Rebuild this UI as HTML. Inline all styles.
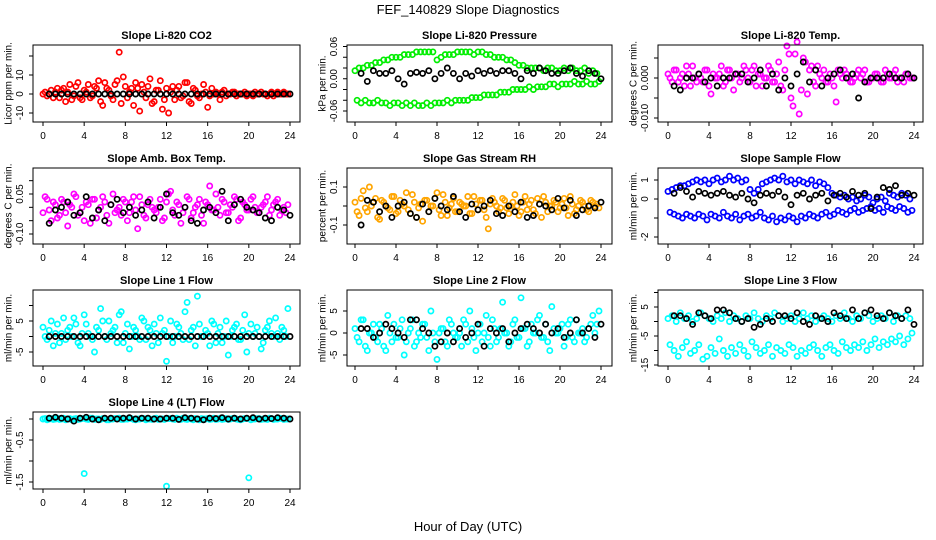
<!DOCTYPE html>
<html><head><meta charset="utf-8"><style>
html,body{margin:0;padding:0;background:#fff;}
svg{display:block;font-family:"Liberation Sans",sans-serif;}
</style></head><body>
<svg id="chart" width="936" height="540" viewBox="0 0 936 540" xmlns="http://www.w3.org/2000/svg">
<rect width="936" height="540" fill="#fff"/>
<text x="468" y="14" font-size="13" text-anchor="middle">FEF_140829  Slope Diagnostics</text>
<text x="468" y="531" font-size="13" text-anchor="middle">Hour of Day (UTC)</text>
</svg>
<script>
// ---- data ----
const xTicks = [0,4,8,12,16,20,24];
const co2A = [0,-1,2,1,-2,3,1,-3,4,-2,2,5,-1,3,-4,6,2,-3,7,-5,4,1,-6,3,5,-2,8,-4,2,-8,3,1,-3,4,-1,6,-5,2,-2,5,-7,3,1,-3,2,0,1,-1,0,1,0,-1,0,1,0,0,-1,1,0,0];
const co2B = [1,0,-2,3,2,-4,5,-1,6,-3,1,-2,4,7,-6,3,-1,5,22,9,-2,3,6,-9,1,4,-5,2,7,-3,-10,4,2,-2,6,-4,3,-1,0,1,-1,0,0,1,-1,0,1,0,0,-1,0,1,0,0,-1,1,0,0,1,0];
const co2K = [0,0,0,0,0,0,0,0,0,0,0,0,0,0,0,0,0,0,0,0,0,0,0,0,0,0,0,0,0,0,0,0,0,0,0,0,0,0,0,0];
const presA = [0.015,0.02,0.02,0.025,0.025,0.03,0.03,0.035,0.035,0.04,0.04,0.04,0.045,0.045,0.045,0.05,0.05,0.05,0.05,0.05,0.035,0.04,0.045,0.045,0.045,0.05,0.05,0.05,0.05,0.045,0.05,0.05,0.045,0.045,0.04,0.04,0.04,0.035,0.035,0.03,0.025,0.025,0.02,0.02,0.02,0.02,0.015,0.02,0.02,0.015,0.015,0.02,0.015,0.02,0.015,0.015,0.02,0.01,0.015,0.01];
const presB = [-0.04,-0.045,-0.04,-0.045,-0.045,-0.04,-0.045,-0.045,-0.05,-0.045,-0.045,-0.05,-0.045,-0.05,-0.045,-0.05,-0.05,-0.045,-0.05,-0.045,-0.045,-0.045,-0.04,-0.045,-0.04,-0.04,-0.04,-0.04,-0.035,-0.035,-0.035,-0.03,-0.03,-0.03,-0.03,-0.025,-0.025,-0.025,-0.02,-0.02,-0.02,-0.02,-0.015,-0.02,-0.015,-0.015,-0.015,-0.01,-0.01,-0.015,-0.01,-0.01,-0.01,-0.005,-0.01,-0.01,-0.005,-0.01,-0.01,-0.005];
const presK = [0.01,-0.005,0.015,0.01,0.01,0.015,0.0,-0.01,0.01,0.012,0.01,0.015,0.0,0.01,0.02,0.01,0.0,0.01,0.005,0.015,0.01,0.015,0.01,0.015,0.015,0.01,0.0,0.015,0.01,0.02,0.015,0.01,0.01,0.015,0.02,0.01,0.005,0.015,0.01,0.0];
const tempA = [0.001,-0.001,0.002,0,-0.002,0.001,0.003,-0.001,0,0.002,-0.002,0.001,0,0.003,-0.001,0.002,-0.003,0.001,0,0.002,-0.001,0.003,0.001,-0.002,0,0.002,-0.001,0.004,-0.003,0.008,-0.005,0.006,-0.009,0.005,-0.004,0.003,-0.002,0.001,0.002,-0.001,0,-0.006,0.001,0.002,0,-0.001,0.001,0,0.002,-0.001,0,0.001,-0.001,0.002,0,0.001,-0.001,0,0.001,0];
const tempB = [0,0.002,-0.001,0.001,0.003,-0.002,0,0.001,-0.001,0.002,-0.004,0,0.001,-0.002,0.002,0,0.001,-0.001,0.003,0,0.002,-0.002,0.001,0,0.003,-0.001,0.001,-0.002,0.002,0.006,-0.007,0.009,-0.003,0.004,0.002,-0.001,0.003,0,-0.001,0.001,-0.002,0.002,0,0.001,-0.001,0,0.002,0.001,-0.001,0,0.001,0,-0.001,0.001,0,0.002,0,-0.001,0.001,0];
const tempK = [-0.002,-0.003,0,0,0.001,-0.001,0,-0.002,0,0,0.001,0.001,-0.001,0,0.002,-0.002,0.001,-0.003,0,-0.002,0.001,0.004,-0.001,0.002,-0.002,0,0.001,0.002,0,0.001,-0.005,-0.001,0,0,0,0.001,0,0,0.001,0];
const ambA = [-0.02,0.03,-0.05,0.01,-0.03,0.02,-0.07,0,0.04,-0.02,-0.05,0.01,0.03,-0.04,0,0.02,-0.06,0.05,-0.01,-0.03,0.02,-0.02,0.04,-0.08,0.01,-0.04,0.03,-0.01,0,-0.05,0.02,0.06,-0.03,0.01,-0.02,0.04,-0.04,0,0.03,-0.06,0.01,-0.01,0.05,-0.03,0.02,-0.02,0,0.03,-0.04,0.01,-0.01,0.04,-0.02,0,0.02,-0.03,0.01,0.03,-0.01,-0.02];
const ambB = [0.04,-0.01,0.02,-0.04,0.03,-0.02,0.01,0.05,-0.03,0,0.02,-0.06,0.03,-0.01,0.04,-0.03,0.01,-0.02,0,0.03,-0.05,0.02,-0.01,0.04,-0.03,0.01,0,-0.02,0.03,-0.04,0.05,-0.01,0.02,-0.06,0,0.03,-0.02,0.01,-0.03,0.02,0.08,-0.01,0,0.03,-0.02,0.01,0.04,-0.05,0.02,-0.01,0.03,0,-0.02,0.01,0.04,-0.01,0.02,-0.03,0,0.01];
const ambK = [-0.06,-0.01,0,0.02,-0.03,-0.02,0.04,-0.04,-0.01,-0.05,0.01,0.03,-0.02,0,-0.03,-0.01,0.02,-0.04,0,0.05,-0.02,-0.03,0,-0.05,-0.06,-0.01,0,-0.02,0.06,-0.05,0.01,0.03,0,-0.01,-0.02,-0.04,-0.05,0,-0.01,-0.03];
const rhA = [0.02,-0.05,0.08,-0.03,0,0.04,-0.07,0.02,-0.01,0.05,-0.04,0.03,0,-0.02,0.06,-0.06,0.01,0.03,-0.03,0,0.07,-0.05,0.02,-0.01,0.04,-0.03,0.01,0,-0.04,0.05,-0.02,0.03,-0.06,0.01,0.02,-0.03,0.04,-0.01,0,0.06,-0.05,0.02,-0.02,0.03,-0.04,0.01,0.05,-0.03,0,0.02,-0.01,0.04,-0.05,0.01,-0.02,0.03,0,-0.03,0.02,0.01];
const rhB = [-0.03,0.04,-0.01,0.1,0.02,-0.06,0.03,0,-0.02,0.05,-0.03,0.01,0.07,-0.04,0.02,-0.01,-0.08,0.03,0,0.04,-0.02,0.06,-0.05,0.01,-0.03,0.02,0,0.05,-0.04,0.01,0.03,-0.02,-0.12,0.04,0,-0.01,0.03,-0.04,0.02,0,-0.03,0.05,0.01,-0.02,0.04,-0.06,0.02,0,0.03,-0.03,0.01,-0.01,0.05,-0.04,0,0.02,-0.02,0.03,0,-0.01];
const rhK = [-0.1,0.03,0.02,-0.03,0,-0.06,0,0.02,-0.04,-0.06,0.01,-0.03,0.04,0,-0.02,0.05,-0.03,-0.06,0.01,-0.02,0,0.03,-0.04,-0.05,0,-0.03,0.02,-0.06,-0.05,0.01,0,-0.02,0.04,-0.01,0.03,-0.05,-0.02,0,-0.01,0.02];
const sfA = [0.4,0.5,0.6,0.7,0.7,0.8,0.9,1.0,0.9,1.0,0.8,1.0,1.1,0.9,1.0,1.2,1.0,1.1,0.9,1.0,0.5,0.3,0.5,0.8,0.9,1.0,1.1,1.0,1.2,0.9,1.0,0.8,1.0,0.9,0.8,1.0,0.7,0.9,0.8,0.6,0.3,0.2,0.1,0.2,0.0,0.1,-0.1,0.0,0.2,0.1,-0.2,0.0,0.1,-0.1,0.3,0.2,0.1,0.3,0.2,0.0];
const sfB = [-0.7,-0.8,-0.9,-1.0,-0.8,-0.9,-1.0,-0.8,-0.9,-1.1,-0.8,-0.9,-1.0,-0.7,-0.9,-1.0,-0.8,-1.1,-0.9,-0.8,-1.0,-0.9,-0.7,-1.0,-1.1,-0.9,-1.2,-1.0,-1.1,-0.9,-1.0,-1.2,-0.9,-1.0,-0.8,-0.9,-1.0,-0.8,-0.7,-0.9,-0.8,-0.6,-0.7,-0.8,-0.6,-0.5,-0.7,-0.6,-0.5,-0.4,-0.6,-0.5,-0.7,-0.4,-0.5,-0.6,-0.4,-0.5,-0.7,-0.6];
const sfK = [0.3,0.6,0.4,0.1,0.4,0.3,0.2,0.3,0.4,0.2,0.1,0.3,0,-0.2,0.2,0.3,0.2,0.4,0.1,-0.3,0.2,0.3,0,0.2,0.3,-0.1,0.2,0.3,0.1,0.4,0.2,0.3,-0.5,0.1,0.6,0.5,0.7,0.2,0.3,0.2];
const l1A = [3,-1,5,1,-2,6,2,0,4,-3,7,1,-1,3,9,0,5,2,-2,8,1,-4,3,0,6,-1,2,4,-2,1,-8,5,0,3,-1,11,2,-3,4,0,1,5,-2,3,0,-6,2,4,-1,7,1,0,3,-4,2,5,0,1,3,0];
const l1B = [0,2,-3,4,1,-1,3,6,-2,1,4,0,-5,2,5,-1,1,3,7,-2,4,0,2,-1,5,3,-3,1,6,2,0,-2,4,1,8,-1,3,13,0,2,-3,4,1,-2,5,0,3,-1,2,-5,4,1,0,-2,3,1,6,-1,2,9];
const l1K = [0,0,0,0,0,0,0,0,0,0,0,0,0,0,0,0,0,0,0,0,0,0,0,0,0,0,0,0,0,0,0,0,0,0,0,0,0,0,0,0];
const l2A = [1,-2,3,-4,0,-1,2,-3,4,-2,-1,1,-5,0,3,-2,-1,2,-4,0,-6,1,-2,3,0,-1,-3,2,5,-1,0,-2,4,-3,1,-1,7,0,-2,3,-1,1,-3,2,0,4,-1,-2,6,0,1,-3,2,-1,3,0,-2,1,4,2];
const l2B = [-1,3,-3,0,2,-2,1,-4,0,2,-1,3,-2,1,-3,0,2,-1,5,-2,0,1,-3,2,-1,0,3,-2,1,-4,2,0,-1,3,-2,1,0,-3,2,-1,8,1,-2,0,3,-1,2,-4,1,0,2,-1,3,-2,0,1,-1,2,0,5];
const l2K = [1,1,-1,0,2,1,0,-1,3,3,1,0,-3,-2,0,-2,1,-1,0,2,-3,1,0,1,-2,0,1,2,1,0,2,0,1,-1,0,3,0,1,-1,2];
const l3A = [1,2,0,3,1,2,0,1,3,2,1,0,2,1,3,0,2,1,0,2,1,3,1,0,2,1,3,2,0,1,2,0,1,3,1,2,0,1,2,1,0,2,1,3,1,0,2,1,3,2,0,1,2,1,3,0,2,1,2,1];
const l3B = [-8,-10,-12,-9,-7,-11,-10,-8,-13,-12,-9,-11,-6,-10,-12,-9,-11,-8,-10,-12,-7,-9,-11,-10,-8,-12,-9,-10,-11,-8,-9,-12,-10,-11,-9,-8,-10,-12,-9,-8,-10,-11,-7,-9,-10,-8,-9,-7,-10,-8,-6,-9,-7,-8,-6,-7,-5,-8,-6,-4];
const l3K = [2,2,1,-1,3,2,1,4,4,3,1,0,1,-2,-1,1,0,2,2,1,3,0,-1,2,1,0,3,2,1,4,1,3,4,2,1,3,2,1,4,-1];
const l4A = [0,-0.02,0.01,0,-0.01,0.02,0,-0.02,0.01,0,-1.3,-0.01,0.02,0,-0.01,0.01,-0.02,0,0.01,-0.01,0,0.02,-0.01,0,0.01,-0.02,0,0.01,-0.01,0,-1.6,0.01,-0.01,0,0.02,-0.01,0,0.01,-0.02,0,0.01,0,-0.01,0.02,0,-0.01,0.01,0,-0.02,0.01,-1.4,0,0.01,-0.01,0,0.02,-0.01,0,0.01,0];
const l4B = [0.01,0,-0.01,0.02,0,-0.02,0.01,0,-0.01,0.01,0,0.02,-0.01,0,0.01,-0.02,0,0.01,0.02,-0.01,0,0.01,-0.02,0,0.01,0,-0.01,0.02,0,-0.01,0.01,0,0.02,-0.01,0,0.01,-0.02,0,0.01,0,-0.01,0.02,0,-0.01,0.01,0,0.02,-0.01,0,0.01,-0.02,0,0.01,0,-0.01,0.01,0,0.02,-0.01,0];
const l4K = [0.02,0.04,0.02,0,-0.05,0.02,0.04,0,-0.02,0.02,0.02,0,0.02,0.03,0,0.02,0.02,0,0,0.02,0.02,-0.01,0.03,0.02,0,-0.02,0.02,0.01,0.03,0,0.02,0,0.02,0.03,0,0.02,0.01,0.03,0.02,0];

const NS = "http://www.w3.org/2000/svg";
const svg = document.getElementById('chart');
const cols = [{b0:33,b1:300,h0:43,h1:290,lab:9},{b0:347,b1:612,h0:355,h1:601,lab:323},{b0:658,b1:923,h0:668,h1:914,lab:634}];
const rows = [{t:45,b:122},{t:168,b:244},{t:290,b:366},{t:412,b:489}];
const panels = [
 {name:'co2',c:0,r:0,title:'Slope Li-820 CO2',yl:'Licor ppm per min.',col:'#ff0000',A:co2A,B:co2B,K:co2K,v1:0,p1:94,v2:10,p2:75,ticks:[-10,0,10,20],tl:['-10','0','10','']},
 {name:'pressure',c:1,r:0,title:'Slope Li-820 Pressure',yl:'kPa per min.',col:'#00ee00',A:presA,B:presB,K:presK,v1:0.06,p1:46.5,v2:-0.06,p2:111,ticks:[-0.06,-0.04,-0.02,0,0.02,0.04,0.06],tl:['-0.06','','','0.00','','','0.06']},
 {name:'temp',c:2,r:0,title:'Slope Li-820 Temp.',yl:'degrees C per min.',col:'#ff00ff',A:tempA,B:tempB,K:tempK,v1:0,p1:78,v2:-0.01,p2:118,ticks:[-0.01,-0.005,0,0.005],tl:['-0.010','','0.000','']},
 {name:'amb-box-temp',c:0,r:1,title:'Slope Amb. Box Temp.',yl:'degrees C per min.',col:'#ff00ff',A:ambA,B:ambB,K:ambK,v1:0.05,p1:194,v2:-0.1,p2:234,ticks:[-0.1,-0.05,0,0.05,0.1],tl:['-0.10','','','0.05','']},
 {name:'gas-rh',c:1,r:1,title:'Slope Gas Stream RH',yl:'percent per min.',col:'#ffa500',A:rhA,B:rhB,K:rhK,v1:0.1,p1:187,v2:-0.1,p2:225,ticks:[-0.1,0,0.1],tl:['-0.1','','0.1']},
 {name:'sample-flow',c:2,r:1,title:'Slope Sample Flow',yl:'ml/min per min.',col:'#0000ff',A:sfA,B:sfB,K:sfK,v1:1,p1:180,v2:-2,p2:237,ticks:[-2,-1,0,1],tl:['-2','','0','1']},
 {name:'line1-flow',c:0,r:2,title:'Slope Line 1 Flow',yl:'ml/min per min.',col:'#00ffff',A:l1A,B:l1B,K:l1K,v1:5,p1:321,v2:-5,p2:352,ticks:[-5,0,5,10],tl:['-5','','5','']},
 {name:'line2-flow',c:1,r:2,title:'Slope Line 2 Flow',yl:'ml/min per min.',col:'#00ffff',A:l2A,B:l2B,K:l2K,v1:5,p1:311,v2:-5,p2:355,ticks:[-5,0,5],tl:['-5','0','5']},
 {name:'line3-flow',c:2,r:2,title:'Slope Line 3 Flow',yl:'ml/min per min.',col:'#00ffff',A:l3A,B:l3B,K:l3K,v1:5,p1:307,v2:-15,p2:365,ticks:[-15,-10,-5,0,5,10],tl:['-15','','-5','','5','']},
 {name:'line4-flow',c:0,r:3,title:'Slope Line 4 (LT) Flow',yl:'ml/min per min.',col:'#00ffff',A:l4A,B:l4B,K:l4K,v1:0,p1:419,v2:-1.5,p2:482,ticks:[-1.5,-1,-0.5,0],tl:['-1.5','','-0.5','']}
];
function mk(tag, attrs, parent){const e=document.createElementNS(NS,tag);for(const k in attrs)e.setAttribute(k,attrs[k]);(parent||svg).appendChild(e);return e;}

panels.forEach(p=>{
  const C=cols[p.c], R=rows[p.r];
  const xs=h=>C.h0+(C.h1-C.h0)*h/24;
  const ys=v=>p.p1+(v-p.v1)*(p.p2-p.p1)/(p.v2-p.v1);
  const g=mk('g',{});
  
  
  const t=mk('text',{x:(C.b0+C.b1)/2,y:R.t-6,'font-size':11,'font-weight':'bold','text-anchor':'middle'},g);
  t.textContent=p.title;
  
  
  const ym=(R.t+R.b)/2;
  const yl=mk('text',{x:C.lab,y:ym,'font-size':10,'text-anchor':'middle',transform:'rotate(-90 '+C.lab+' '+ym+')','dominant-baseline':'middle'},g);
  yl.textContent=p.yl;
  
  
  const pts=mk('g',{},g);
  
  
  const drawSeries=(arr,step,off,color,nm)=>{
    arr.forEach((v,i)=>{
      const h=off+i*step;
      const c=mk('circle',{cx:xs(h).toFixed(1),cy:ys(v).toFixed(1),r:2.6,fill:'none',stroke:color,'stroke-width':1.7},pts);
      
      
    });
  };
  drawSeries(p.A,0.4,0,p.col,'point-a');
  drawSeries(p.B,0.4,0.2,p.col,'point-b');
  drawSeries(p.K,0.6,0.6,'#000','point-black');
  const box=mk('rect',{x:C.b0,y:R.t,width:C.b1-C.b0,height:R.b-R.t,fill:'none',stroke:'#000','stroke-width':1},g);
  
  
  const xa=mk('g',{},g);
  
  
  mk('line',{x1:xs(0),x2:xs(24),y1:R.b,y2:R.b,stroke:'#000'},xa);
  xTicks.forEach(h=>{
    mk('line',{x1:xs(h),x2:xs(h),y1:R.b,y2:R.b+4,stroke:'#000'},xa);
    const tx=mk('text',{x:xs(h),y:R.b+17,'font-size':10,'text-anchor':'middle'},xa);
    tx.textContent=h;
    
    
  });
  const ya=mk('g',{},g);
  
  
  const tmin=Math.min(...p.ticks), tmax=Math.max(...p.ticks);
  mk('line',{x1:C.b0,x2:C.b0,y1:ys(tmin),y2:ys(tmax),stroke:'#000'},ya);
  p.ticks.forEach((v,i)=>{
    const y=ys(v);
    mk('line',{x1:C.b0-4,x2:C.b0,y1:y,y2:y,stroke:'#000'},ya);
    if(p.tl[i]){
      const lx=C.b0-10;
      const tx=mk('text',{x:lx,y:y,'font-size':10,'text-anchor':'middle',transform:'rotate(-90 '+lx+' '+y+')'},ya);
      tx.textContent=p.tl[i];
      
      
    }
  });
});
</script>
</body></html>
